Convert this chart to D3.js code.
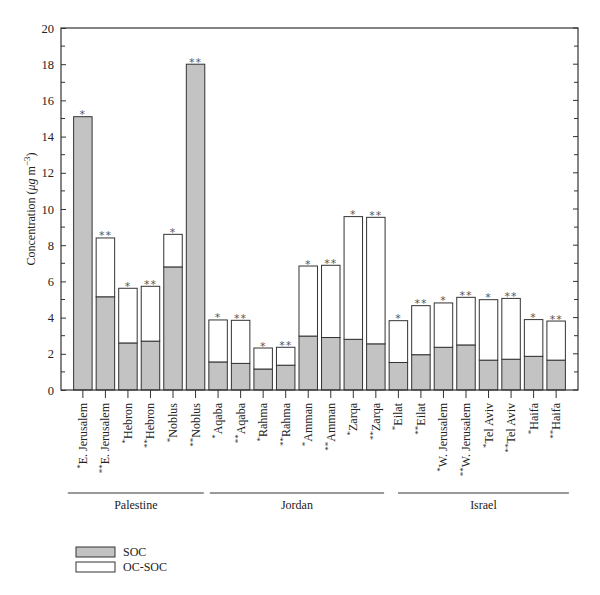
<!DOCTYPE html>
<html>
<head>
<meta charset="utf-8">
<script src="https://cdn.jsdelivr.net/npm/d3@7"></script>
<style>
  body { margin: 0; background: #fff; }
  text { font-family: "Liberation Serif", "DejaVu Serif", serif; fill: #222; }
</style>
</head>
<body>
<div id="chart"></div>
<script>
// site names, star marker (* or **) and group
var sites = ["E. Jerusalem", "E. Jerusalem", "Hebron", "Hebron", "Noblus", "Noblus",
	"Aqaba", "Aqaba", "Rahma", "Rahma", "Amman", "Amman", "Zarqa", "Zarqa",
	"Eilat", "Eilat", "W. Jerusalem", "W. Jerusalem", "Tel Aviv", "Tel Aviv", "Haifa", "Haifa"];
var marks = ["*", "**", "*", "**", "*", "**",
	"*", "**", "*", "**", "*", "**", "*", "**",
	"*", "**", "*", "**", "*", "**", "*", "**"];
var groups = ["Palestine", "Jordan", "Israel"];
var groupSizes = [6, 8, 8];
// values in ug m-3
var soc = [15.1, 5.15, 2.6, 2.7, 6.8, 18.0,
	1.55, 1.47, 1.16, 1.37, 2.98, 2.9, 2.8, 2.55,
	1.52, 1.95, 2.36, 2.49, 1.65, 1.7, 1.86, 1.65];
var ocsoc = [0, 3.25, 3.02, 3.03, 1.8, 0,
	2.32, 2.38, 1.16, 0.99, 3.87, 3.99, 6.78, 6.99,
	2.31, 2.71, 2.45, 2.63, 3.34, 3.36, 2.03, 2.16];
var yTicks = [0, 2, 4, 6, 8, 10, 12, 14, 16, 18, 20];
var legendItems = ["SOC", "OC-SOC"];

(function() {
	var width = 600, height = 595;
	var pLeft = 61, pRight = 578, pTop = 28, pBottom = 390;
	var gray = "#c3c3c3", ink = "#333";

	var svg = d3.select("#chart").append("svg")
		.attr("width", width)
		.attr("height", height);

	var idx = d3.range(sites.length);
	var x = d3.scaleBand()
		.domain(idx)
		.range([pLeft, pRight])
		.paddingInner(0.18)
		.paddingOuter(0.56);
	var y = d3.scaleLinear().domain([0, 20]).range([pBottom, pTop]);

	// bars: SOC at bottom, OC-SOC on top
	var bars = svg.append("g");
	bars.selectAll("rect.soc")
		.data(idx)
		.enter()
		.append("rect")
		.attr("class", "soc")
		.attr("x", function(i) { return x(i); })
		.attr("width", x.bandwidth())
		.attr("y", function(i) { return y(soc[i]); })
		.attr("height", function(i) { return y(0) - y(soc[i]); })
		.attr("fill", gray)
		.attr("stroke", ink)
		.attr("stroke-width", 1);
	bars.selectAll("rect.ocsoc")
		.data(idx.filter(function(i) { return ocsoc[i] > 0; }))
		.enter()
		.append("rect")
		.attr("class", "ocsoc")
		.attr("x", function(i) { return x(i); })
		.attr("width", x.bandwidth())
		.attr("y", function(i) { return y(soc[i] + ocsoc[i]); })
		.attr("height", function(i) { return y(soc[i]) - y(soc[i] + ocsoc[i]); })
		.attr("fill", "#fff")
		.attr("stroke", ink)
		.attr("stroke-width", 1);

	// stars above bars
	bars.selectAll("text.star")
		.data(idx)
		.enter()
		.append("text")
		.attr("class", "star")
		.attr("x", function(i) { return x(i) + x.bandwidth() / 2; })
		.attr("y", function(i) { return y(soc[i] + ocsoc[i]) + 1.5; })
		.attr("text-anchor", "middle")
		.style("font-family", "DejaVu Sans, sans-serif")
		.style("font-size", "11px")
		.style("fill", "#555")
		.style("letter-spacing", "1px")
		.text(function(i) { return marks[i]; });

	// frame
	svg.append("rect")
		.attr("x", pLeft).attr("y", pTop)
		.attr("width", pRight - pLeft).attr("height", pBottom - pTop)
		.attr("fill", "none")
		.attr("stroke", ink)
		.attr("stroke-width", 1.2);

	// y axis, ticks inward on both sides
	var yAxis = d3.axisLeft(y).tickValues(yTicks).tickSize(-5).tickPadding(7);
	var gy = svg.append("g").attr("transform", "translate(" + pLeft + ",0)").call(yAxis);
	gy.select(".domain").remove();
	gy.selectAll("line").attr("stroke", ink);
	gy.selectAll("text").style("font-size", "12.5px").style("font-family", "Liberation Serif, serif").style("fill", "#222");

	var minor = d3.range(1, 20, 2);
	svg.append("g").selectAll("line")
		.data(minor)
		.enter()
		.append("line")
		.attr("x1", pLeft).attr("x2", pLeft + 4)
		.attr("y1", function(d) { return y(d); }).attr("y2", function(d) { return y(d); })
		.attr("stroke", ink);
	svg.append("g").selectAll("line")
		.data(yTicks.concat(minor))
		.enter()
		.append("line")
		.attr("x1", pRight).attr("x2", function(d) { return d % 2 ? pRight - 4 : pRight - 5; })
		.attr("y1", function(d) { return y(d); }).attr("y2", function(d) { return y(d); })
		.attr("stroke", ink);

	// y title
	var yt = svg.append("text")
		.attr("transform", "translate(35," + ((pTop + pBottom) / 2) + ") rotate(-90)")
		.attr("text-anchor", "middle")
		.style("font-size", "12px");
	yt.append("tspan").text("Concentration (");
	yt.append("tspan").style("font-style", "italic").text("\u03bcg");
	yt.append("tspan").text(" m");
	yt.append("tspan").attr("dy", -5).style("font-size", "9px").text("\u22123");
	yt.append("tspan").attr("dy", 5).text(")");

	// x ticks and labels
	var gx = svg.append("g");
	gx.selectAll("line")
		.data(idx)
		.enter()
		.append("line")
		.attr("x1", function(i) { return x(i) + x.bandwidth() / 2; })
		.attr("x2", function(i) { return x(i) + x.bandwidth() / 2; })
		.attr("y1", pBottom).attr("y2", pBottom + 8)
		.attr("stroke", ink);
	var labels = gx.selectAll("text")
		.data(idx)
		.enter()
		.append("text")
		.attr("transform", function(i) {
			return "translate(" + (x(i) + x.bandwidth() / 2 + 4) + "," + (pBottom + 13) + ") rotate(-90)";
		})
		.attr("text-anchor", "end")
		.style("font-size", "12px");
	labels.append("tspan")
		.attr("dy", -4)
		.style("font-size", "9px")
		.text(function(i) { return marks[i]; });
	labels.append("tspan")
		.attr("dy", 4)
		.text(function(i) { return sites[i]; });

	// group lines and names
	var start = 0;
	groups.forEach(function(name, k) {
		var first = start, last = start + groupSizes[k] - 1;
		var x0 = x(first) + x.bandwidth() / 2 - x.step() * 0.5;
		var x1 = x(last) + x.bandwidth() / 2 + x.step() * 0.5;
		if (k === 0) x0 -= x.step() * 0.3;
		if (k === groups.length - 1) { x0 += x.step() * 0.35; x1 += x.step() * 0.2; }
		svg.append("line")
			.attr("x1", x0 + 3).attr("x2", x1 - 3)
			.attr("y1", 493).attr("y2", 493)
			.attr("stroke", ink);
		svg.append("text")
			.attr("x", (x0 + x1) / 2)
			.attr("y", 509)
			.attr("text-anchor", "middle")
			.style("font-size", "12px")
			.text(name);
		start = last + 1;
	});

	// legend
	var legend = svg.append("g").attr("transform", "translate(76,547)");
	legend.selectAll("rect")
		.data(legendItems)
		.enter()
		.append("rect")
		.attr("x", 0)
		.attr("y", function(d, i) { return i * 15; })
		.attr("width", 39)
		.attr("height", 10)
		.attr("fill", function(d, i) { return i === 0 ? gray : "#fff"; })
		.attr("stroke", ink);
	legend.selectAll("text")
		.data(legendItems)
		.enter()
		.append("text")
		.attr("x", 47)
		.attr("y", function(d, i) { return i * 15 + 9; })
		.style("font-size", "12px")
		.text(function(d) { return d; });
})();
</script>
</body>
</html>
